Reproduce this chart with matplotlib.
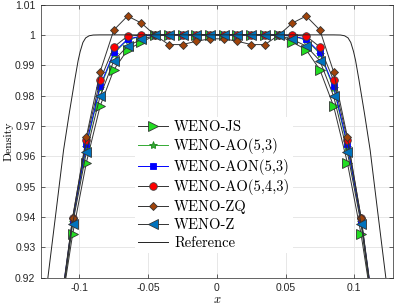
import matplotlib
matplotlib.use("Agg")
import matplotlib.pyplot as plt
import numpy as np

# ---------------------------------------------------------------------------
#  data (profile is symmetric about x = 0)
# ---------------------------------------------------------------------------
x_half = [0.005, 0.015, 0.025, 0.035, 0.045, 0.055, 0.065, 0.075,
          0.085, 0.095, 0.105, 0.115]

weno_js = [1.0, 1.0, 1.0, 1.0, 0.9998, 0.9976, 0.9951, 0.9885,
           0.9765, 0.9579, 0.9343, 0.905]
weno_ao53 = [1.0, 1.0, 1.0, 1.0, 1.0, 0.9995, 0.9984, 0.9938,
             0.9825, 0.9632, 0.9385, 0.905]
weno_aon53 = [1.0, 1.0, 1.0, 1.0, 1.0, 0.9996, 0.9986, 0.9942,
              0.9831, 0.9640, 0.9390, 0.906]
weno_ao543 = [1.0, 1.0, 1.0, 1.0, 1.0, 0.9999, 0.9996, 0.9960,
              0.9850, 0.9655, 0.9398, 0.906]
weno_zq = [0.9987, 0.9979, 0.9968, 0.9968, 0.9999, 1.0039, 1.0062, 1.0016,
           0.9878, 0.9664, 0.9396, 0.905]
weno_z = [1.0, 1.0, 1.0, 1.0, 0.9998, 0.9985, 0.9963, 0.9915,
          0.9798, 0.9614, 0.9377, 0.904]

ref_x_half = [0.085, 0.090, 0.093, 0.0955, 0.0975, 0.0995, 0.1010,
              0.1035, 0.1075, 0.1116, 0.117, 0.123, 0.130]
ref_half = [1.0, 0.99995, 0.9997, 0.9990, 0.9975, 0.9945, 0.9915,
            0.9850, 0.9740, 0.9620, 0.9420, 0.9200, 0.893]

labels = ["WENO-JS", "WENO-AO(5,3)", "WENO-AON(5,3)", "WENO-AO(5,4,3)",
          "WENO-ZQ", "WENO-Z", "Reference"]

y_ticks = [0.92, 0.93, 0.94, 0.95, 0.96, 0.97, 0.98, 0.99, 1.0, 1.01]
y_ticklabels = ["0.92", "0.93", "0.94", "0.95", "0.96", "0.97", "0.98",
                "0.99", "1", "1.01"]
x_ticks = [-0.1, -0.05, 0, 0.05, 0.1]
x_ticklabels = ["-0.1", "-0.05", "0", "0.05", "0.1"]


def mirror(xs, ys):
    xs = np.asarray(xs)
    ys = np.asarray(ys)
    return np.concatenate([-xs[::-1], xs]), np.concatenate([ys[::-1], ys])


# ---------------------------------------------------------------------------
#  figure
# ---------------------------------------------------------------------------
plt.rcParams["mathtext.fontset"] = "cm"
plt.rcParams["axes.unicode_minus"] = False

fig = plt.figure(figsize=(3.99, 3.07), dpi=100)
ax = fig.add_axes([0.1028, 0.0954, 0.8814, 0.8899])

styles = [
    dict(color="#333333", marker=">", mfc="#22dd22", mec="#333333", ms=6.5),
    dict(color="#33aa33", marker="*", mfc="#33aa33", mec="#228822", ms=6),
    dict(color="#0000ff", marker="s", mfc="#0000ff", mec="#0000ff", ms=4.5),
    dict(color="#333333", marker="o", mfc="#ff0000", mec="#444444", ms=5.5),
    dict(color="#333333", marker="D", mfc="#a0430a", mec="#333333", ms=4.5),
    dict(color="#333333", marker="<", mfc="#0072bd", mec="#333333", ms=6.5),
]
series = [weno_js, weno_ao53, weno_aon53, weno_ao543, weno_zq, weno_z]

for vals, st, lab in zip(series, styles, labels):
    xx, yy = mirror(x_half, vals)
    ax.plot(xx, yy, lw=0.7, mew=0.6, label=lab, **st)

rx, ry = mirror(ref_x_half, ref_half)
ax.plot(rx, ry, color="#222222", lw=0.7, label=labels[-1])

ax.set_xlim(-0.128, 0.128)
ax.set_ylim(0.92, 1.01)
ax.set_xticks(x_ticks)
ax.set_xticklabels(x_ticklabels)
ax.set_yticks(y_ticks)
ax.set_yticklabels(y_ticklabels)

ax.grid(True, color="#e3e3e3", lw=0.6)
ax.set_axisbelow(True)
ax.tick_params(direction="in", length=3, width=0.5, color="#262626",
               top=True, right=True, labelsize=7.5, labelcolor="#262626",
               pad=4)
for lab in ax.get_xticklabels() + ax.get_yticklabels():
    lab.set_family("Liberation Sans")
for sp in ax.spines.values():
    sp.set_color("#262626")
    sp.set_linewidth(0.5)

ax.set_ylabel("Density", family="cmr10", fontsize=8.5, labelpad=1)
ax.set_xlabel("$x$", fontsize=9, labelpad=0)

leg = ax.legend(loc="center", bbox_to_anchor=(0.492, 0.339),
                prop={"family": "cmr10", "size": 10.5},
                frameon=True, facecolor="white", edgecolor="none",
                framealpha=1, fancybox=False, handlelength=2.1,
                handletextpad=0.4, labelspacing=0.3, borderpad=0.2)

fig.savefig("out.png", dpi=100)
